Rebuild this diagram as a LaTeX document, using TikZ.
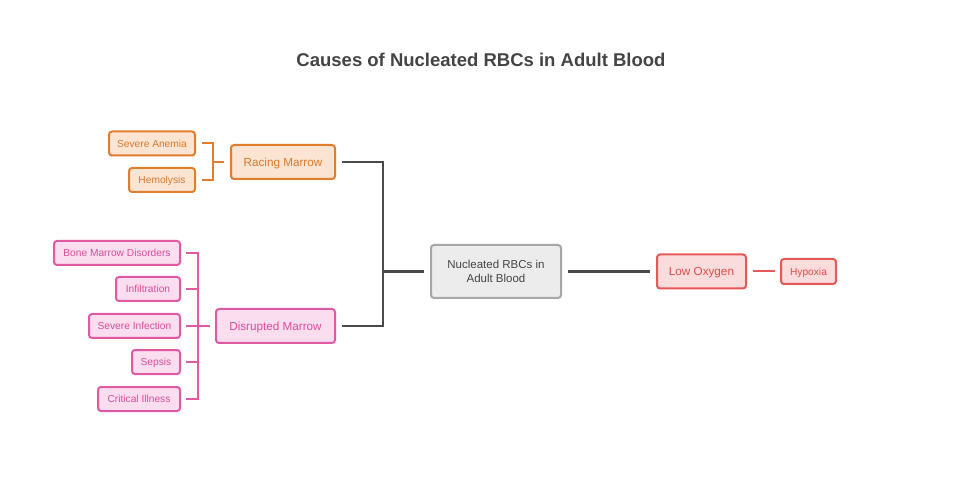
\documentclass[tikz,border=0pt]{standalone}
\usepackage{fontspec}
\setmainfont{Liberation Sans}
\definecolor{orS}{HTML}{E07E2E}
\definecolor{orF}{HTML}{FBE4D2}
\definecolor{orT}{HTML}{D97A2E}
\definecolor{pkS}{HTML}{E05AA2}
\definecolor{pkF}{HTML}{FADDEE}
\definecolor{pkT}{HTML}{D94E9A}
\definecolor{rdS}{HTML}{E55858}
\definecolor{rdF}{HTML}{FBDCDC}
\definecolor{rdT}{HTML}{E04B4B}
\definecolor{gyS}{HTML}{A6A6A6}
\definecolor{gyF}{HTML}{ECECEC}
\definecolor{gyT}{HTML}{444444}
\definecolor{lnk}{HTML}{4A4A4A}
\begin{document}
\begin{tikzpicture}[x=1pt,y=-1pt,
  box/.style={rectangle,rounded corners=3pt,line width=2pt,inner sep=0pt,align=center},
  orbox/.style={box,draw=orS,fill=orF,text=orT},
  pkbox/.style={box,draw=pkS,fill=pkF,text=pkT},
  rdbox/.style={box,draw=rdS,fill=rdF,text=rdT},
  gybox/.style={box,draw=gyS,fill=gyF,text=gyT},
  small/.style={font=\fontsize{10.2}{12}\selectfont,minimum height=24pt,text height=7.3pt,text depth=0pt},
  big/.style={font=\fontsize{11.7}{13}\selectfont,minimum height=34pt,text height=8.4pt,text depth=0pt},
  olink/.style={draw=orS,line width=2pt},
  plink/.style={draw=pkS,line width=2pt},
  rlink/.style={draw=rdS,line width=2pt},
  glink/.style={draw=lnk,line width=2.2pt}]
\useasboundingbox (0,0) rectangle (962,497);
\node[font=\bfseries\fontsize{18.5}{20}\selectfont,text=gyT] (title) at (481,60) {Causes of Nucleated RBCs in Adult Blood};

% orange group
\node[orbox,small,minimum width=86pt] (sa) at (152,143.5) {Severe Anemia};
\node[orbox,small,minimum width=66pt] (he) at (162,180) {Hemolysis};
\node[orbox,big,minimum width=104pt] (rm) at (283,162) {Racing Marrow};

% pink group
\node[pkbox,small,minimum width=126pt] (bm) at (117,253) {Bone Marrow Disorders};
\node[pkbox,small,minimum width=64pt] (inf) at (148,289) {Infiltration};
\node[pkbox,small,minimum width=91pt] (si) at (134.5,326) {Severe Infection};
\node[pkbox,small,minimum width=48pt] (se) at (156,362) {Sepsis};
\node[pkbox,small,minimum width=82pt] (ci) at (139,399) {Critical Illness};
\node[pkbox,big,minimum width=119pt] (dm) at (275.5,326) {Disrupted Marrow};

% centre
\node[gybox,font=\fontsize{11.5}{14}\selectfont,minimum width=130pt,minimum height=53pt] (nr) at (496,271.5) {Nucleated RBCs in\\Adult Blood};
\node[rdbox,big,minimum width=89pt] (lo) at (701.5,271.5) {Low Oxygen};
\node[rdbox,small,minimum width=55pt,minimum height=25pt] (hy) at (808.5,271.5) {Hypoxia};

% coordinates
\coordinate (ob) at (213,162);
\coordinate (pb) at (198,326);
\coordinate (gb) at (383,271.5);

% orange bracket
\draw[olink] ([xshift=6pt]sa.east) -| (ob);
\draw[olink] ([xshift=6pt]he.east) -| (ob);
\draw[olink] (ob) -- ([xshift=-6pt]rm.west);

% pink bracket
\draw[plink] ([xshift=5pt]bm.east) -| (pb);
\draw[plink] ([xshift=5pt]inf.east) -| (pb);
\draw[plink] ([xshift=5pt]si.east) -- (pb);
\draw[plink] ([xshift=5pt]se.east) -| (pb);
\draw[plink] ([xshift=5pt]ci.east) -| (pb);
\draw[plink] (pb) -- ([xshift=-5pt]dm.west);

% grey links
\draw[glink] ([xshift=6pt]rm.east) -| (gb);
\draw[glink] ([xshift=6pt]dm.east) -| (gb);
\draw[glink] (gb) -- ([xshift=-6pt]nr.west);
\draw[glink] ([xshift=6pt]nr.east) -- ([xshift=-6pt]lo.west);

% red link
\draw[rlink] ([xshift=6pt]lo.east) -- ([xshift=-5pt]hy.west);
\end{tikzpicture}
\end{document}
